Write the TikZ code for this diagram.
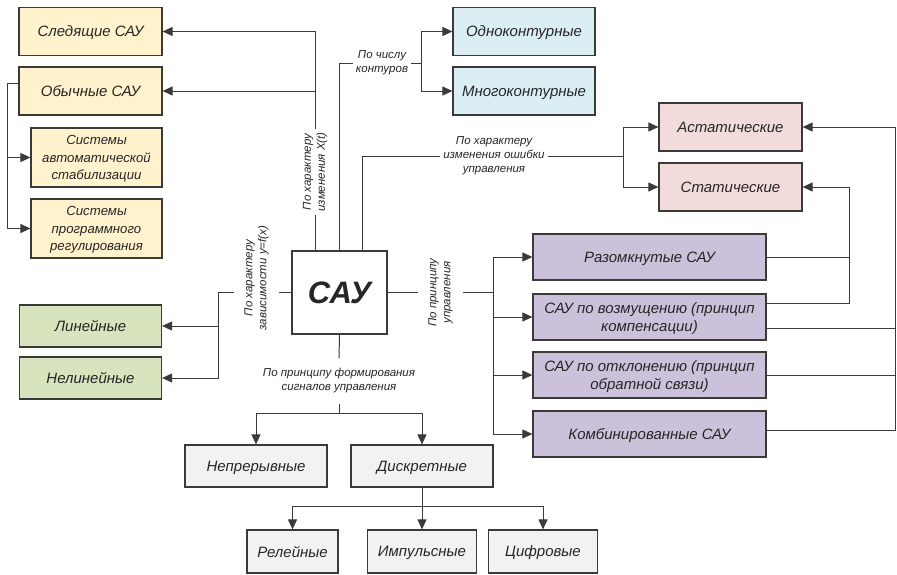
\documentclass[tikz,border=0pt]{standalone}
\usepackage{fontspec}
\setmainfont{Liberation Sans}
\usetikzlibrary{positioning,arrows.meta}

\definecolor{lncol}{HTML}{3A3A3A}
\definecolor{yelfill}{HTML}{FFF2CC}
\definecolor{blufill}{HTML}{DBEEF4}
\definecolor{pnkfill}{HTML}{F2DCDB}
\definecolor{prpfill}{HTML}{CCC1DA}
\definecolor{grnfill}{HTML}{D7E4BD}
\definecolor{gryfill}{HTML}{F2F2F2}

\tikzset{
  blk/.style={draw=lncol, line width=1.2pt, align=center, inner sep=0pt, text=black!85,
    text depth=0pt, font=\itshape\fontsize{15}{17.5}\selectfont},
  yel/.style={blk, fill=yelfill, minimum width=143pt, minimum height=48pt},
  yelsm/.style={blk, fill=yelfill, minimum width=131pt, minimum height=59pt,
    font=\itshape\fontsize{13.2}{17.5}\selectfont},
  blu/.style={blk, fill=blufill, minimum width=142pt, minimum height=48pt},
  pnk/.style={blk, fill=pnkfill, minimum width=143pt, minimum height=48pt},
  prp/.style={blk, fill=prpfill, minimum width=233pt, minimum height=46pt},
  grn/.style={blk, fill=grnfill, minimum width=142pt, minimum height=42pt},
  gry/.style={blk, fill=gryfill, minimum width=142pt, minimum height=42pt},
  grysm/.style={blk, fill=gryfill, minimum width=109pt, minimum height=43pt},
  sau/.style={draw=lncol, line width=1.2pt, fill=white, minimum width=95pt, minimum height=83pt,
    text=black!85, font=\bfseries\itshape\fontsize{31}{36}\selectfont},
  lbl/.style={font=\itshape\fontsize{11.5}{14}\selectfont, align=center, text=black!85,
    inner xsep=3pt, inner ysep=10pt},
  wire/.style={draw=lncol, line width=1pt}
}

\begin{document}
\begin{tikzpicture}[x=1pt, y=-1pt, on grid, >={Triangle[length=10pt,width=9pt]}]
  \useasboundingbox (0,0) rectangle (897,574);

  \node[sau] (sau) at (339.5,292.5) {САУ};

  \node[yel] (sled) at (90.5,31.5) {Следящие САУ};
  \node[yel] (obych) [below=59.5pt of sled] {Обычные САУ};
  \node[yelsm] (stab) at (96.5,157.5) {Системы\\ автоматической\\ стабилизации};
  \node[yelsm] (prog) [below=71pt of stab] {Системы\\ программного\\ регулирования};

  \node[blu] (odno) at (524,31.5) {Одноконтурные};
  \node[blu] (mnogo) [below=59.5pt of odno] {Многоконтурные};

  \node[pnk] (astat) at (730.5,127) {Астатические};
  \node[pnk] (stat) [below=60pt of astat] {Статические};

  \node[prp] (razomk) at (649.5,257) {Разомкнутые САУ};
  \node[prp] (vozm) [below=60pt of razomk] {САУ по возмущению (принцип\\ компенсации)};
  \node[prp] (otkl) [below=58pt of vozm] {САУ по отклонению (принцип\\ обратной связи)};
  \node[prp] (komb) [below=59pt of otkl] {Комбинированные САУ};

  \node[grn] (lin) at (90.5,326) {Линейные};
  \node[grn] (nelin) [below=52pt of lin] {Нелинейные};

  \node[gry] (nepr) at (256,466) {Непрерывные};
  \node[gry] (diskr) [right=166pt of nepr] {Дискретные};
  \node[grysm, minimum width=91pt] (rel) at (292.5,551.5) {Релейные};
  \node[grysm] (imp) [right=129.5pt of rel] {Импульсные};
  \node[grysm] (cif) [right=121pt of imp] {Цифровые};

  % labels on the lines
  \node[lbl, rotate=90] (lblX) at (315,172) {По характеру\\ изменения X(t)};
  \node[lbl] (lblN) at (382,63) {По числу\\ контуров};
  \node[lbl] (lblE) at (494,156) {По характеру\\ изменения ошибки\\ управления};
  \node[lbl, rotate=90] (lblY) at (256.5,278) {По характеру\\ зависимости y=f(x)};
  \node[lbl, rotate=90] (lblU) at (440.5,292.5) {По принципу\\ управления};
  \node[lbl] (lblB) at (339,381) {По принципу формирования\\ сигналов управления};

  \coordinate (jL) at (7,83);
  \coordinate (jN) at (421,63);
  \coordinate (jE) at (623,156);
  \coordinate (jU) at (493,292.5);
  \coordinate (jS) at (849,187);
  \coordinate (jA) at (895,127);
  \coordinate (jY) at (218,292.5);
  \coordinate (jB) at (339,413);
  \coordinate (jD) at (422,506);

  % X(t)
  \draw[wire] (lblX.west) -- (lblX.west |- sau.north);
  \draw[wire,->] (lblX.east) |- (sled.east);
  \draw[wire,->] (lblX.east) |- (obych.east);
  \draw[wire] ([yshift=8pt]obych.west) -- (jL);
  \draw[wire,->] (jL) |- (stab.west);
  \draw[wire,->] (jL) |- (prog.west);

  % contours
  \draw[wire] (sau.north) |- (lblN.west);
  \draw[wire] (lblN.east) -- (jN);
  \draw[wire,->] (jN) |- (odno.west);
  \draw[wire,->] (jN) |- (mnogo.west);

  % error
  \draw[wire] ([xshift=-25pt]sau.north east) |- (lblE.west);
  \draw[wire] (lblE.east) -- (jE);
  \draw[wire,->] (jE) |- (astat.west);
  \draw[wire,->] (jE) |- (stat.west);

  % control principle
  \draw[wire] (sau.east) -- (lblU.north);
  \draw[wire] (lblU.south) -- (jU);
  \draw[wire,->] (jU) |- (razomk.west);
  \draw[wire,->] (jU) |- (vozm.west);
  \draw[wire,->] (jU) |- (otkl.west);
  \draw[wire,->] (jU) |- (komb.west);
  \draw[wire,->] (razomk.east) -| (jS) -- (stat.east);
  \draw[wire] ([yshift=14pt]vozm.east) -| (jS);
  \draw[wire,->] ([yshift=4pt]komb.east) -| (jA) -- (astat.east);
  \draw[wire] ([yshift=-11pt]vozm.east) -| (jA);
  \draw[wire] (otkl.east) -| (jA);

  % y=f(x)
  \draw[wire] (sau.west) -- (lblY.south |- sau.west);
  \draw[wire] (lblY.north |- sau.west) -- (jY);
  \draw[wire,->] (jY) |- (lin.east);
  \draw[wire,->] (jY) |- (nelin.east);

  % signals
  \draw[wire] (sau.south) -- (lblB.north);
  \draw[wire] (lblB.south) -- (jB);
  \draw[wire,->] (jB) -| (nepr.north);
  \draw[wire,->] (jB) -| (diskr.north);
  \draw[wire] (diskr.south) -- (jD);
  \draw[wire,->] (jD) -| (rel.north);
  \draw[wire,->] (jD) -| (imp.north);
  \draw[wire,->] (jD) -| (cif.north);
\end{tikzpicture}
\end{document}
